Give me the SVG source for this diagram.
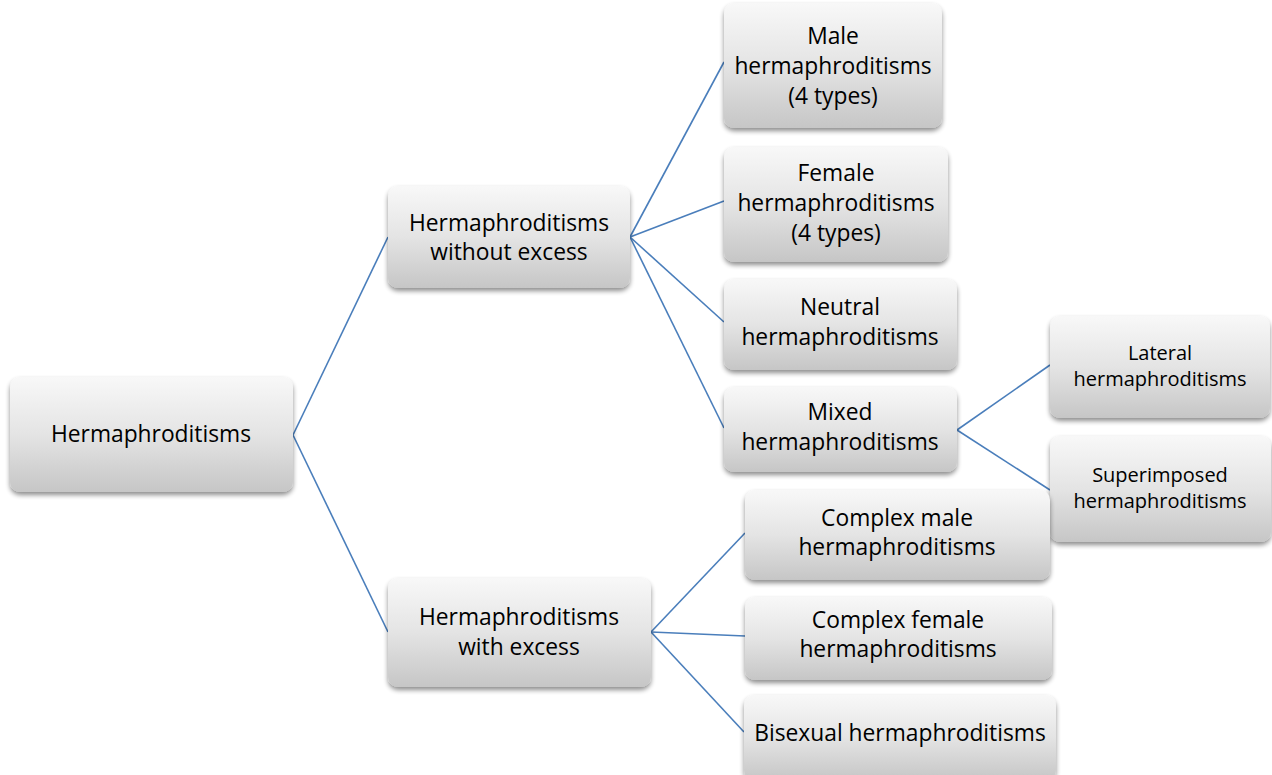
<svg xmlns="http://www.w3.org/2000/svg" width="1272" height="775" viewBox="0 0 1272 775">
<defs>
<linearGradient id="g" x1="0" y1="0" x2="0" y2="1">
<stop offset="0" stop-color="#f8f8f8"/>
<stop offset="0.5" stop-color="#e4e4e4"/>
<stop offset="1" stop-color="#c6c6c6"/>
</linearGradient>
<filter id="sh" x="-10%" y="-10%" width="120%" height="130%">
<feGaussianBlur in="SourceAlpha" stdDeviation="2.5"/>
<feOffset dx="0" dy="3" result="b"/>
<feComponentTransfer><feFuncA type="linear" slope="0.45"/></feComponentTransfer>
<feMerge><feMergeNode/><feMergeNode in="SourceGraphic"/></feMerge>
</filter>
</defs>
<style>
.box{fill:url(#g);filter:url(#sh);}
.t{font-family:"Open Sans","Liberation Sans",Arial,sans-serif;font-size:22.8px;fill:#000;text-anchor:middle;}
.s{font-size:20px;}
.c{stroke:#4a7ebb;stroke-width:1.6;fill:none;}
</style>
<rect width="1272" height="775" fill="#fff"/>
<g id="connectors" class="c">
<line x1="293" y1="435" x2="388" y2="237"/>
<line x1="293" y1="435" x2="388" y2="632"/>
<line x1="630" y1="237" x2="724" y2="62"/>
<line x1="630" y1="237" x2="724" y2="201"/>
<line x1="630" y1="237" x2="724" y2="322"/>
<line x1="630" y1="237" x2="724" y2="428"/>
<line x1="957" y1="430" x2="1050" y2="365"/>
<line x1="957" y1="430" x2="1050" y2="490"/>
<line x1="651" y1="632" x2="745" y2="533"/>
<line x1="651" y1="632" x2="745" y2="636"/>
<line x1="651" y1="632" x2="744" y2="732"/>
</g>
<g id="root">
<rect class="box" x="10" y="377" width="283" height="115" rx="10"/>
<text class="t" x="151" y="442">Hermaphroditisms</text>
</g>
<g id="without-excess">
<rect class="box" x="388" y="186" width="242" height="102" rx="10"/>
<text class="t" x="509" y="231">Hermaphroditisms</text>
<text class="t" x="509" y="260">without excess</text>
</g>
<g id="with-excess">
<rect class="box" x="388" y="578" width="263" height="109" rx="10"/>
<text class="t" x="519" y="625">Hermaphroditisms</text>
<text class="t" x="519" y="655">with excess</text>
</g>
<g id="male">
<rect class="box" x="724" y="3" width="218" height="125" rx="10"/>
<text class="t" x="833" y="44">Male</text>
<text class="t" x="833" y="74">hermaphroditisms</text>
<text class="t" x="833" y="104">(4 types)</text>
</g>
<g id="female">
<rect class="box" x="724" y="147" width="224" height="115" rx="10"/>
<text class="t" x="836" y="181">Female</text>
<text class="t" x="836" y="211">hermaphroditisms</text>
<text class="t" x="836" y="241">(4 types)</text>
</g>
<g id="neutral">
<rect class="box" x="724" y="279" width="233" height="91" rx="10"/>
<text class="t" x="840" y="315">Neutral</text>
<text class="t" x="840" y="345">hermaphroditisms</text>
</g>
<g id="mixed">
<rect class="box" x="724" y="387" width="233" height="85" rx="10"/>
<text class="t" x="840" y="420">Mixed</text>
<text class="t" x="840" y="450">hermaphroditisms</text>
</g>
<g id="lateral">
<rect class="box" x="1050" y="316" width="220" height="102" rx="10"/>
<text class="t s" x="1160" y="360">Lateral</text>
<text class="t s" x="1160" y="386">hermaphroditisms</text>
</g>
<g id="superimposed">
<rect class="box" x="1050" y="436" width="221" height="106" rx="10"/>
<text class="t s" x="1160" y="482">Superimposed</text>
<text class="t s" x="1160" y="508">hermaphroditisms</text>
</g>
<g id="complex-male">
<rect class="box" x="745" y="490" width="305" height="90" rx="10"/>
<text class="t" x="897" y="526">Complex male</text>
<text class="t" x="897" y="555">hermaphroditisms</text>
</g>
<g id="complex-female">
<rect class="box" x="745" y="597" width="307" height="83" rx="10"/>
<text class="t" x="898" y="628">Complex female</text>
<text class="t" x="898" y="657">hermaphroditisms</text>
</g>
<g id="bisexual">
<rect class="box" x="744" y="695" width="312" height="85" rx="10"/>
<text class="t" x="900" y="741">Bisexual hermaphroditisms</text>
</g>
</svg>
